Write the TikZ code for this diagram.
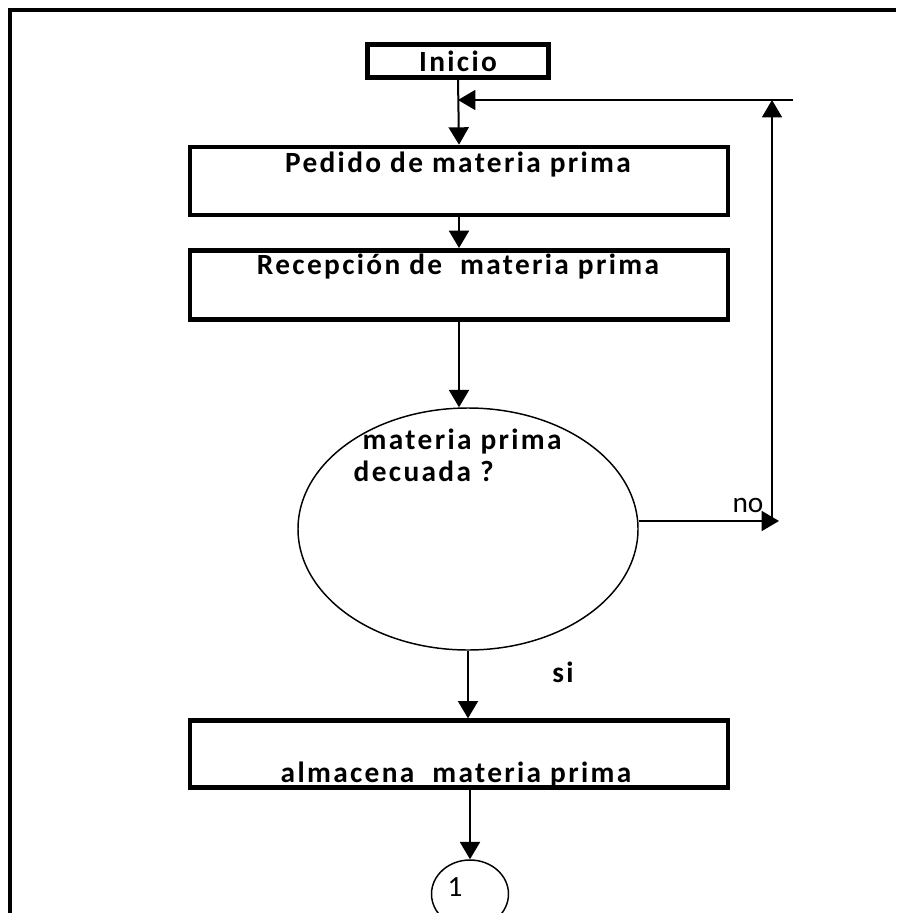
\documentclass[tikz,border=0pt]{standalone}
\usepackage{fontspec}
\setmainfont{Carlito}
\newfontfamily\spaced[LetterSpace=8]{Carlito}
\usetikzlibrary{arrows.meta,shapes.geometric}

\begin{document}
\begin{tikzpicture}[x=.75pt,y=-.75pt,line width=1.1pt,font=\fontsize{22}{24}\selectfont,
  procbox/.style={draw,line width=3.5pt,minimum width=403.5pt,minimum height=51pt,inner sep=0pt},
  lbl/.style={font=\fontsize{22}{24}\selectfont\spaced\bfseries,inner sep=0pt},
  plain/.style={inner sep=0pt},
  flow/.style={line width=1.5pt,-{Triangle[width=15pt,length=13pt]}},
  back/.style={line width=1.1pt,-{Triangle[width=15pt,length=13pt]}}]
\clip (0,0) rectangle (896,913);
% marco
\draw[line width=3pt] (896,10)--(10,10)--(10,913);
% cajas
\node[procbox,lbl,draw,line width=3.5pt,minimum width=135.75pt,minimum height=24.4pt] (inicio) at (458,61) {Inicio};
\node[procbox] (pedido) at (459,181) {};
\node[procbox,minimum height=52pt] (recep) at (459,285) {};
\node[draw,ellipse,minimum width=255pt,minimum height=181.5pt,inner sep=0pt] (dec) at (468,529) {};
\node[procbox,minimum height=50pt] (alm) at (459,754) {};
\node[draw,ellipse,minimum width=57.75pt,minimum height=51pt,inner sep=0pt] (one) at (470,894) {};
% textos
\node[lbl] at (458,165) {Pedido de materia prima};
\node[lbl] at (458,267) {Recepción de\ \ materia prima};
\node[lbl,align=left,anchor=west] at (353,455) {\hspace*{6.75pt}materia prima\\decuada ?};
\node[lbl] at (456,775) {almacena\ \ materia prima};
\node[lbl] at (563,672) {si};
\node[plain] at (748,505) {no};
\node[plain] at (455,887) {1};
% flechas
\draw[flow] (inicio.south)--(pedido.north);
\draw[flow] (pedido.south)--(recep.north);
\draw[flow] (recep.south)--(recep.south |- dec.north);
\draw[flow] (dec.south)--(dec.south |- alm.north);
\draw[flow] (alm.south -| one.north)--(one.north);
% retorno
\coordinate (noend) at (779,521);
\coordinate (upbot) at (772,521);
\coordinate (uptop) at (772,100);
\coordinate (backR) at (793,100);
\draw[back] (dec.east |- noend)--(noend);
\draw[back] (upbot)--(uptop);
\draw[back] (backR)--(inicio.south |- backR);
\end{tikzpicture}
\end{document}
